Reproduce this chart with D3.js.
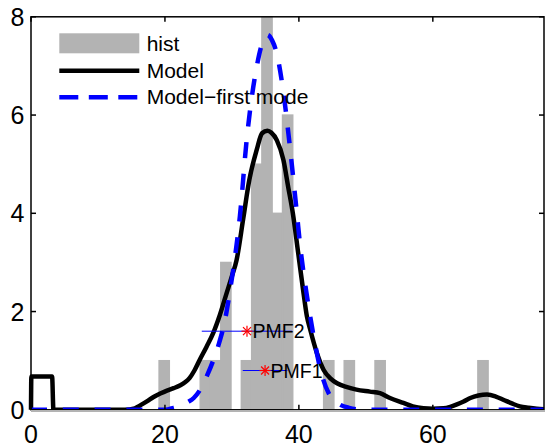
<!DOCTYPE html>
<html><head><meta charset="utf-8">
<script src="https://cdn.jsdelivr.net/npm/d3@7"></script>
<style>body{margin:0;background:#fff}svg{display:block}text{font-family:"Liberation Sans",Arial,Helvetica,sans-serif}</style>
</head><body><svg id="c" width="545" height="447"></svg>
<script>
// ---- data ----
const binCenters=[19.89,26.03,27.57,29.10,32.17,33.71,35.24,36.78,38.32,44.46,47.53,52.13,67.49];
const binCounts=[1,1,1,3,1,5,8,4,6,1,1,1,1];
const binWidth=1.535;
const modelX=[0,0.05,3.15,3.35,14,15.5,16.3,17.3,18.3,19.3,20.3,21.3,22.3,23.0,23.7,24.4,25.2,26.2,27.2,28.2,29.2,30.0,30.7,31.7,32.6,33.7,34.5,35.3,35.9,36.7,37.7,38.4,39.1,39.9,40.7,41.2,41.7,42.7,43.7,44.7,45.7,47.2,48.6,50.6,52.1,53.6,55.6,57.0,58.6,60.0,61.6,62.6,63.6,64.6,65.6,66.8,68.1,69.4,70.6,71.8,73.0,74.3,75.5,76.6];
const modelY=[0,0.68,0.68,0,0,0.03,0.09,0.17,0.26,0.33,0.39,0.44,0.5,0.56,0.65,0.8,1.02,1.28,1.56,1.93,2.37,2.72,3.05,3.9,4.68,5.29,5.63,5.68,5.64,5.49,5.08,4.54,4.0,3.19,2.37,1.9,1.63,1.15,0.81,0.64,0.54,0.46,0.41,0.37,0.34,0.24,0.14,0.07,0.03,0.02,0.03,0.06,0.11,0.17,0.24,0.29,0.31,0.27,0.2,0.13,0.07,0.04,0.02,0.01];
const modeX=[0,20,21.3,22.5,23.3,24.3,25.3,26.3,27.2,28.0,29.0,29.8,30.5,31.2,32.2,33.7,34.5,35.3,36.0,36.7,37.7,38.7,39.7,40.2,41.2,42.2,43.2,44.4,45.2,46.2,47.5,48.7,50,76.6];
const modeY=[0,0,0.04,0.09,0.15,0.24,0.42,0.7,1.0,1.32,1.85,2.5,3.15,3.95,5.49,6.98,7.45,7.63,7.52,7.25,6.45,5.3,4.0,3.33,2.32,1.5,0.83,0.35,0.2,0.1,0.04,0.01,0,0];
const pmfNames=["PMF1","PMF2"];
const pmfX=[34.95,32.25];
const pmfY=[0.8,1.6];
const pmfLo=[31.62,25.5];
const pmfHi=[38.28,39.0];
const xTicks=[0,20,40,60];
const yTicks=[0,2,4,6,8];
const legendLabels=["hist","Model","Model\u2212first mode"];

// ---- drawing ----
const svg=d3.select("#c");
const x=d3.scaleLinear().domain([0,76.6]).range([31,544]);
const y=d3.scaleLinear().domain([0,8]).range([409.8,16.8]);
const gray="#b3b3b3";

// bars
svg.append("g").selectAll("rect").data(binCenters).join("rect")
  .attr("x",(d)=>x(d-binWidth/2)).attr("width",(d)=>x(binWidth)-x(0))
  .attr("y",(d,i)=>y(binCounts[i])).attr("height",(d,i)=>y(0)-y(binCounts[i]))
  .attr("fill",gray).attr("stroke",gray).attr("stroke-width",1.4);

const line=d3.line().x(d=>x(d[0])).y(d=>y(d[1])).curve(d3.curveMonotoneX);
svg.append("path").datum(modelX.map((v,i)=>[v,modelY[i]])).attr("d",line)
  .attr("fill","none").attr("stroke","#000").attr("stroke-width",4.5).attr("stroke-linejoin","round");
svg.append("path").datum(modeX.map((v,i)=>[v,modeY[i]])).attr("d",line)
  .attr("fill","none").attr("stroke","#0000ff").attr("stroke-width",4.5).attr("stroke-dasharray","16,15.8");

// bar baseline
svg.append("line").attr("x1",x(0)).attr("x2",545).attr("y1",411).attr("y2",411)
  .attr("stroke",gray).attr("stroke-width",2);

// PMF markers
const pm=svg.append("g");
pmfNames.forEach((n,i)=>{
  const cx=x(pmfX[i]), cy=y(pmfY[i]);
  pm.append("line").attr("x1",x(pmfLo[i])).attr("x2",x(pmfHi[i])).attr("y1",cy).attr("y2",cy)
    .attr("stroke","#0000ff").attr("stroke-width",1);
  const r=5.5, r2=4;
  [[-r,0,r,0],[0,-r,0,r],[-r2,-r2,r2,r2],[-r2,r2,r2,-r2]].forEach(s=>{
    pm.append("line").attr("x1",cx+s[0]).attr("y1",cy+s[1]).attr("x2",cx+s[2]).attr("y2",cy+s[3])
      .attr("stroke","#ff0000").attr("stroke-width",1.2);
  });
  pm.append("text").attr("x",cx+5.5).attr("y",cy+7).attr("font-size","19.5px").attr("fill","#000").text(n);
});

// axes box & ticks
const ax=svg.append("g").attr("stroke","#000").attr("stroke-width",1.5).attr("fill","none");
ax.append("rect").attr("x",x(0)).attr("y",y(8)).attr("width",x(76.6)-x(0)).attr("height",y(0)-y(8));
xTicks.forEach(t=>{
  ax.append("line").attr("x1",x(t)).attr("x2",x(t)).attr("y1",y(0)).attr("y2",y(0)-5);
  ax.append("line").attr("x1",x(t)).attr("x2",x(t)).attr("y1",y(8)).attr("y2",y(8)+5);
});
yTicks.forEach(t=>{
  ax.append("line").attr("x1",x(0)).attr("x2",x(0)+5).attr("y1",y(t)).attr("y2",y(t));
  ax.append("line").attr("x1",x(76.6)).attr("x2",x(76.6)-5).attr("y1",y(t)).attr("y2",y(t));
});
// redraw baseline over the bottom axis line
svg.append("line").attr("x1",x(0)).attr("x2",545).attr("y1",411).attr("y2",411)
  .attr("stroke",gray).attr("stroke-width",2);

svg.append("g").selectAll("text").data(xTicks).join("text")
  .attr("x",d=>x(d)).attr("y",442.5).attr("text-anchor","middle").attr("font-size","25px").text(d=>d);
svg.append("g").selectAll("text").data(yTicks).join("text")
  .attr("x",24.5).attr("y",d=>y(d)+9).attr("text-anchor","end").attr("font-size","25px").text(d=>d);

// legend
const lg=svg.append("g");
lg.append("rect").attr("x",59.3).attr("y",33.3).attr("width",80).attr("height",20).attr("fill",gray);
lg.append("line").attr("x1",59.3).attr("x2",139.3).attr("y1",70.7).attr("y2",70.7).attr("stroke","#000").attr("stroke-width",4.5);
lg.append("line").attr("x1",59.3).attr("x2",139.3).attr("y1",97.3).attr("y2",97.3).attr("stroke","#0000ff").attr("stroke-width",4.5).attr("stroke-dasharray","19,10.5");
lg.selectAll("text").data(legendLabels).join("text")
  .attr("x",146.7).attr("y",(d,i)=>51+i*26.6).attr("font-size","21px").text(d=>d);
</script></body></html>
